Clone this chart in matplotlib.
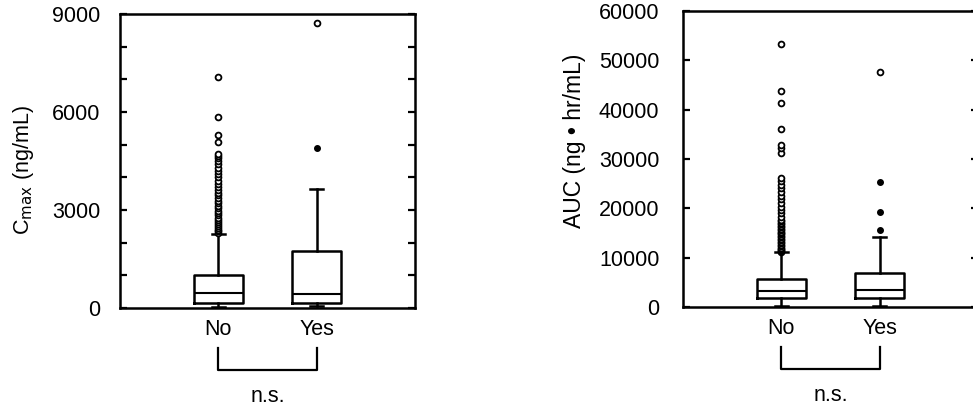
import numpy as np
import matplotlib
matplotlib.use("Agg")
import matplotlib.pyplot as plt
import matplotlib.transforms as mtransforms

plt.rcParams['font.family'] = ['Liberation Sans', 'DejaVu Sans']

groups = ["No", "Yes"]

# Cmax (ng/mL) box statistics
cmax_q1 = [150, 160]
cmax_med = [450, 440]
cmax_q3 = [1010, 1760]
cmax_lo = [40, 60]
cmax_hi = [2280, 3630]
cmax_out_open = [
    [2300, 2350, 2400, 2460, 2520, 2580, 2640, 2700, 2770, 2840, 2900, 2970,
     3050, 3120, 3200, 3280, 3360, 3450, 3530, 3620, 3710, 3800, 3900, 4000,
     4100, 4200, 4300, 4400, 4500, 4580, 4650, 4720, 5080, 5290, 5850, 7070],
    [8720],
]
cmax_out_filled = [[], [4910]]

# AUC (ng*hr/mL) box statistics
auc_q1 = [1900, 1900]
auc_med = [3200, 3500]
auc_q3 = [5700, 6850]
auc_lo = [300, 300]
auc_hi = [11050, 14200]
auc_out_open = [
    [11100, 11300, 11500, 11800, 12000, 12300, 12600, 12900, 13200, 13500,
     13800, 14100, 14400, 14700, 15000, 15300, 15600, 15900, 16200, 16500,
     16800, 17100, 17400, 17700, 18300, 19000, 19600, 20200, 21000, 21800,
     22600, 23400, 24100, 24800, 25500, 26200, 31200, 32200, 32900, 36100,
     41300, 43800, 53300],
    [47700],
]
auc_out_filled = [[], [15700, 19300, 25300]]

cmax_major = [0, 3000, 6000, 9000]
cmax_minor = [1000, 2000, 4000, 5000, 7000, 8000]
auc_major = [0, 10000, 20000, 30000, 40000, 50000, 60000]

FS = 15.5
W, H = 973, 409
fig = plt.figure(figsize=(W / 100, H / 100), dpi=100)


def pos(x0, x1, ytop, ybot):
    return [x0 / W, 1 - ybot / H, (x1 - x0) / W, (ybot - ytop) / H]


def panel(ax, q1, med, q3, lo, hi, out_open, out_filled, ylim, major, minor,
          ylabel, ypad, labelpad, label_fs, label_y):
    stats = []
    for i in range(len(groups)):
        stats.append(dict(q1=q1[i], med=med[i], q3=q3[i], whislo=lo[i],
                          whishi=hi[i], fliers=[], label=groups[i]))
    lw = 1.8
    ax.bxp(stats, positions=[1, 2], widths=0.5, showfliers=False,
           boxprops=dict(color='black', linewidth=lw),
           medianprops=dict(color='black', linewidth=1.5),
           whiskerprops=dict(color='black', linewidth=lw),
           capprops=dict(color='black', linewidth=lw), capwidths=0.13)
    for i in range(len(groups)):
        if out_open[i]:
            ax.plot(np.full(len(out_open[i]), i + 1.0), out_open[i], 'o',
                    ms=4.2, mfc='white', mec='black', mew=1.3, zorder=4)
        if out_filled[i]:
            ax.plot(np.full(len(out_filled[i]), i + 1.0), out_filled[i], 'o',
                    ms=4.0, mfc='black', mec='black', mew=1.0, zorder=4)
    ax.set_xlim(0, 3)
    ax.set_ylim(*ylim)
    ax.set_yticks(major)
    ax.set_yticklabels([str(v) for v in major], fontsize=FS)
    if minor:
        ax.set_yticks(minor, minor=True)
    ax.tick_params(axis='y', which='both', direction='in', length=5,
                   width=1.6, left=True, right=True, pad=ypad)
    ax.tick_params(axis='x', length=0, pad=8, labelsize=FS)
    ax.set_xticks([1, 2])
    ax.set_xticklabels(groups)
    for s in ax.spines.values():
        s.set_linewidth(1.8)
    ax.set_ylabel(ylabel, fontsize=label_fs, labelpad=labelpad)
    ax.yaxis.label.set_y(label_y)
    # significance bracket
    tr = mtransforms.blended_transform_factory(ax.transData, ax.transAxes)
    ax.plot([1, 1, 2, 2], [-0.135, -0.21, -0.21, -0.135], color='black',
            lw=1.6, transform=tr, clip_on=False)
    ax.text(1.5, -0.30, "n.s.", transform=tr, ha='center', va='center',
            fontsize=FS)


ax1 = fig.add_axes(pos(120, 415, 14, 308))
panel(ax1, cmax_q1, cmax_med, cmax_q3, cmax_lo, cmax_hi, cmax_out_open,
      cmax_out_filled, (0, 9000), cmax_major, cmax_minor,
      r'C$_{\mathrm{max}}$ (ng/mL)', 14, 12, FS, 0.47)

ax2 = fig.add_axes(pos(683, 978, 11, 307))
panel(ax2, auc_q1, auc_med, auc_q3, auc_lo, auc_hi, auc_out_open,
      auc_out_filled, (0, 60000), auc_major, [],
      'AUC (ng \u2022 hr/mL)', 17, 9, 16.5, 0.56)

fig.savefig("out.png", dpi=100)
